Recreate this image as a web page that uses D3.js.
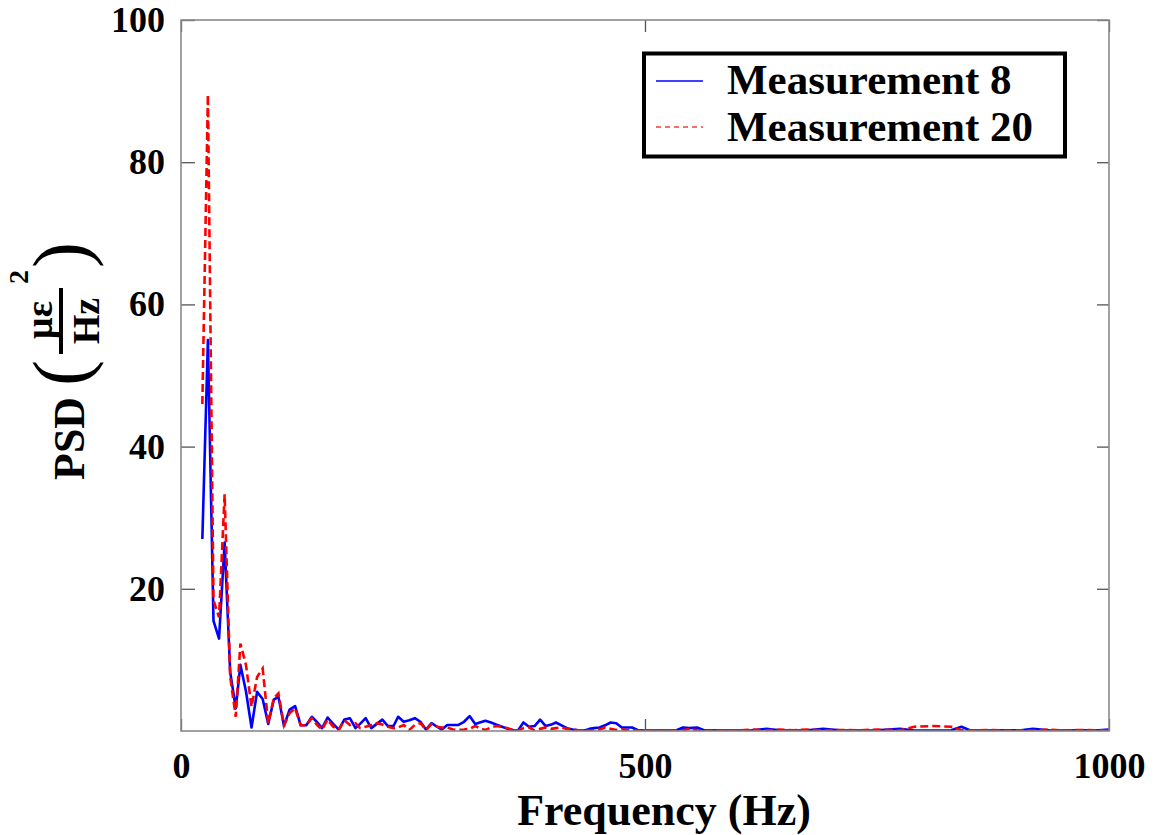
<!DOCTYPE html>
<html>
  <head>
    <meta charset="utf-8" />
    <title>PSD measurement 8 vs 20</title>
    <style>
      body {
        margin: 0;
        background: white;
      }
      text {
        font-family: "Liberation Serif", "Times New Roman", serif;
        font-weight: bold;
        fill: black;
      }
    </style>
  </head>
  <body>
    <div id="chart"></div>

    <script src="https://d3js.org/d3.v7.min.js"></script>

    <script>
      // frequency bins (Hz)
      var freqs = [23, 29, 35, 41, 47, 53, 59, 64, 70, 76, 82, 88, 94, 100, 105, 111, 117, 123, 129, 135,
        141, 147, 152, 158, 164, 170, 176, 182, 188, 193, 199, 205, 211, 217, 223, 229, 234, 240, 246, 252,
        258, 264, 270, 276, 281, 287, 293, 299, 305, 311, 317, 322, 328, 334, 340, 346, 352, 358, 363, 369,
        375, 381, 387, 393, 399, 404, 410, 416, 422, 428, 434, 440, 445, 451, 457, 463, 469, 475, 481, 486,
        492, 498, 510, 525, 534, 541, 548, 556, 563, 580, 600, 615, 631, 645, 660, 675, 692, 710, 730, 750,
        775, 790, 810, 830, 841, 850, 870, 890, 905, 918, 935, 950, 970, 985, 1000];

      // Measurement 8
      var meas8 = [27, 55, 15.5, 13, 26.5, 8.3, 3.2, 9.3, 5.6, 0.5, 5.5, 4.5, 1.0, 4.4, 4.8, 0.7, 3.0, 3.5, 0.8, 0.8,
        2.0, 1.2, 0.4, 1.9, 1.0, 0.2, 1.6, 1.8, 0.4, 1.0, 1.8, 0.4, 1.0, 1.6, 0.7, 0.7, 2.0, 1.3, 1.5, 1.8,
        1.3, 0.2, 1.1, 0.6, 0.2, 0.85, 0.85, 0.85, 1.3, 2.1, 1.0, 1.2, 1.45, 1.2, 0.9, 0.6, 0.3, 0.1, 0.05, 1.2,
        0.6, 0.7, 1.6, 0.7, 0.9, 1.2, 0.8, 0.4, 0.2, 0.1, 0.05, 0.3, 0.4, 0.5, 0.8, 1.2, 1.1, 0.5, 0.5, 0.5,
        0.15, 0.05, 0.05, 0.05, 0.1, 0.5, 0.4, 0.5, 0.15, 0.05, 0.05, 0.1, 0.3, 0.1, 0.05, 0.1, 0.3, 0.1, 0.05, 0.1,
        0.3, 0.05, 0.05, 0.1, 0.6, 0.1, 0.05, 0.1, 0.1, 0.3, 0.1, 0.05, 0.1, 0.05, 0.2];

      // Measurement 20
      var meas20 = [46, 89.5, 18.4, 16, 33.3, 7.6, 2.0, 12.3, 9.3, 3.4, 7.6, 8.8, 1.1, 4.6, 5.3, 0.8, 2.5, 3.2, 0.8, 0.8,
        1.8, 0.8, 0.2, 1.6, 0.6, 0.15, 1.5, 0.85, 1.1, 0.4, 0.6, 0.85, 1.1, 0.9, 0.6, 0.4, 0.5, 0.85, 0.15, 0.85,
        1.1, 0.15, 1.0, 0.6, 0.5, 0.5, 0.2, 0.15, 0.2, 0.3, 0.7, 0.4, 0.15, 0.5, 0.7, 0.6, 0.4, 0.1, 0.05, 0.4,
        0.5, 0.05, 0.3, 0.5, 0.3, 0.4, 0.5, 0.3, 0.2, 0.1, 0.05, 0.05, 0.05, 0.2, 0.5, 0.3, 0.15, 0.24, 0.1, 0.1,
        0.05, 0.05, 0.05, 0.1, 0.05, 0.1, 0.3, 0.1, 0.05, 0.1, 0.05, 0.2, 0.1, 0.2, 0.1, 0.2, 0.1, 0.15, 0.1, 0.2,
        0.1, 0.6, 0.7, 0.6, 0.1, 0.05, 0.15, 0.05, 0.1, 0.05, 0.2, 0.05, 0.15, 0.1, 0.05];

      var yTicks = [20, 40, 60, 80, 100];
      var xTicks = [0, 500, 1000];
      var seriesNames = ["Measurement 8", "Measurement 20"];

      var margin = { top: 20, right: 48, bottom: 104, left: 181 },
        width = 1157 - margin.left - margin.right,
        height = 835 - margin.top - margin.bottom;

      var svg = d3
        .select("#chart")
        .append("svg")
        .attr("width", 1157)
        .attr("height", 835);

      var g = svg
        .append("g")
        .attr("transform", "translate(" + margin.left + "," + margin.top + ")");

      var x = d3.scaleLinear().domain([0, 1000]).range([0, width]);
      var y = d3.scaleLinear().domain([0, 100]).range([height, 0]);

      g.append("clipPath")
        .attr("id", "clip")
        .append("rect")
        .attr("width", width)
        .attr("height", height);

      var line = d3
        .line()
        .x(function (d, i) { return x(freqs[i]); })
        .y(function (d) { return y(d); });

      g.append("path")
        .datum(meas8)
        .attr("clip-path", "url(#clip)")
        .attr("fill", "none")
        .attr("stroke", "#0000ff")
        .attr("stroke-width", 2.6)
        .attr("stroke-linejoin", "round")
        .attr("d", line);

      g.append("path")
        .datum(meas20)
        .attr("clip-path", "url(#clip)")
        .attr("fill", "none")
        .attr("stroke", "#ff0000")
        .attr("stroke-width", 2.6)
        .attr("stroke-dasharray", "8,4")
        .attr("d", line);

      // axes, ticks pointing inward
      var yAxis = g.append("g")
        .call(d3.axisLeft(y).tickValues(yTicks).tickSize(-14).tickPadding(16));
      var yAxisR = g.append("g")
        .attr("transform", "translate(" + width + ",0)")
        .call(d3.axisRight(y).tickValues(yTicks).tickSize(-12).tickFormat(""));
      var xAxis = g.append("g")
        .attr("transform", "translate(0," + height + ")")
        .call(d3.axisBottom(x).tickValues(xTicks).tickSize(-12).tickPadding(21).tickFormat(d3.format("d")));
      var xAxisT = g.append("g")
        .call(d3.axisTop(x).tickValues(xTicks).tickSize(-12).tickFormat(""));

      [yAxis, yAxisR, xAxis, xAxisT].forEach(function (a) {
        a.select(".domain").remove();
        a.selectAll(".tick line").attr("stroke", "#555").attr("stroke-width", 1.3);
        a.selectAll("text")
          .style("font-family", '"Liberation Serif", "Times New Roman", serif')
          .style("font-weight", "bold")
          .style("font-size", "36px")
          .attr("fill", "black");
      });

      // plot box
      g.append("rect")
        .attr("width", width)
        .attr("height", height)
        .attr("fill", "none")
        .attr("stroke", "#8a8a8a")
        .attr("stroke-width", 1.6);

      // x label
      svg.append("text")
        .attr("x", 664)
        .attr("y", 825)
        .attr("text-anchor", "middle")
        .style("font-size", "44px")
        .text("Frequency (Hz)");

      // y label: PSD ( με² / Hz ), rotated
      var yl = svg.append("g").attr("transform", "rotate(-90)");
      yl.append("text")
        .attr("x", -480)
        .attr("y", 84)
        .style("font-size", "44px")
        .text("PSD");
      yl.append("text")
        .attr("x", -386)
        .attr("y", 87)
        .style("font-size", "78px")
        .style("font-weight", "normal")
        .text("(");
      yl.append("text")
        .attr("x", -268)
        .attr("y", 87)
        .style("font-size", "78px")
        .style("font-weight", "normal")
        .text(")");
      yl.append("text")
        .attr("x", -320)
        .attr("y", 52)
        .attr("text-anchor", "middle")
        .style("font-size", "38px")
        .text("με");
      yl.append("text")
        .attr("x", -284)
        .attr("y", 28)
        .style("font-size", "28px")
        .text("2");
      yl.append("line")
        .attr("x1", -354)
        .attr("x2", -288)
        .attr("y1", 61)
        .attr("y2", 61)
        .attr("stroke", "black")
        .attr("stroke-width", 4);
      yl.append("text")
        .attr("x", -321)
        .attr("y", 99)
        .attr("text-anchor", "middle")
        .style("font-size", "38px")
        .text("Hz");

      // legend
      var lg = svg.append("g");
      lg.append("rect")
        .attr("x", 644)
        .attr("y", 53.5)
        .attr("width", 421)
        .attr("height", 103)
        .attr("fill", "white")
        .attr("stroke", "black")
        .attr("stroke-width", 4);
      lg.append("line")
        .attr("x1", 656).attr("x2", 703)
        .attr("y1", 81).attr("y2", 81)
        .attr("stroke", "#0000ff")
        .attr("stroke-width", 1.5);
      lg.append("line")
        .attr("x1", 656).attr("x2", 703)
        .attr("y1", 127).attr("y2", 127)
        .attr("stroke", "#f04040")
        .attr("stroke-width", 1.5)
        .attr("stroke-dasharray", "5,4");
      lg.selectAll("text.leg")
        .data(seriesNames)
        .enter()
        .append("text")
        .attr("class", "leg")
        .attr("x", 727)
        .attr("y", function (d, i) { return 94 + i * 47; })
        .style("font-size", "43px")
        .text(function (d) { return d; });
    </script>
  </body>
</html>
